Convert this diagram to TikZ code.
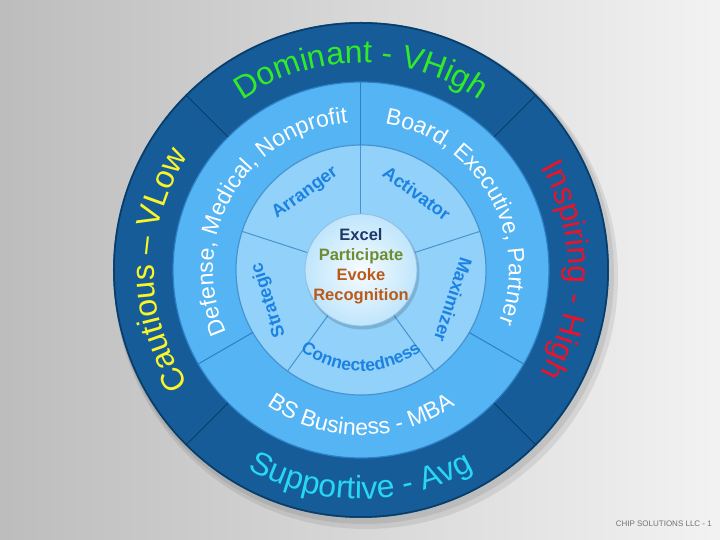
\documentclass[tikz,border=0pt]{standalone}
\usepackage{fontspec}
\setmainfont{Liberation Sans}
\usepackage{tikz}
\usetikzlibrary{shapes,positioning,calc}
\usetikzlibrary{decorations.text}
\definecolor{ringdark}{RGB}{21,92,152}
\definecolor{ringdarkedge}{RGB}{10,60,102}
\definecolor{ringmid}{RGB}{84,180,244}
\definecolor{ringmidedge}{RGB}{45,128,198}
\definecolor{ringinner}{RGB}{145,209,250}
\definecolor{ringinneredge}{RGB}{72,148,208}
\definecolor{hubblue}{RGB}{200,233,252}
\definecolor{labelblue}{RGB}{28,130,226}
\definecolor{dominantgreen}{RGB}{50,235,40}
\definecolor{cautiousyellow}{RGB}{250,245,40}
\definecolor{inspiringred}{RGB}{232,20,45}
\definecolor{supportivecyan}{RGB}{40,215,245}
\definecolor{excelnavy}{RGB}{30,55,105}
\definecolor{participategreen}{RGB}{110,140,50}
\definecolor{evokeorange}{RGB}{185,90,25}
\tikzstyle{arclabel} = [decorate, decoration={text along path, text align=center}]
\tikzstyle{facet} = [font=\bfseries\fontsize{18}{20}\selectfont, text=labelblue, inner sep=0pt]
\tikzstyle{hubtext} = [font=\bfseries\fontsize{16.5}{18}\selectfont, anchor=base, inner sep=0pt]
\tikzstyle{divider} = [line width=1pt]

\begin{document}
\begin{tikzpicture}[x=1pt, y=1pt]
					\useasboundingbox (-361,-270) rectangle (359,270);
					\shade[left color=black!26, right color=black!5] (-361,-270) rectangle (359,270);
					\fill[black, opacity=0.08] (5,-7) circle (252);
					\fill[black, opacity=0.08] (3,-4) circle (250);
					\fill[ringdark] (0,0) circle (248);
					\draw[ringdarkedge, line width=1.5pt] (0,0) circle (247);
					\fill[ringmid] (0,0) circle (188);
					\draw[ringmidedge, line width=1.2pt] (0,0) circle (188);
					\fill[ringinner] (0,0) circle (125);
					\draw[ringinneredge, line width=1.2pt] (0,0) circle (125);
					\draw[divider, ringdarkedge] (45:188) -- (45:248);
					\draw[divider, ringdarkedge] (135:188) -- (135:248);
					\draw[divider, ringdarkedge] (225:188) -- (225:248);
					\draw[divider, ringdarkedge] (315:188) -- (315:248);
					\draw[divider, ringmidedge] (90:125) -- (90:188);
					\draw[divider, ringmidedge] (210:125) -- (210:188);
					\draw[divider, ringmidedge] (330:125) -- (330:188);
					\draw[divider, ringinneredge] (90:56) -- (90:125);
					\draw[divider, ringinneredge] (162:56) -- (162:125);
					\draw[divider, ringinneredge] (234:56) -- (234:125);
					\draw[divider, ringinneredge] (306:56) -- (306:125);
					\draw[divider, ringinneredge] (18:56) -- (18:125);
					\fill[black, opacity=0.15] (1.5,-2.5) circle (57);
					\shade[inner color=white!85!hubblue, outer color=hubblue!85!ringinner] (0,0) circle (56);
					\draw[ringinneredge!60, line width=0.8pt] (0,0) circle (56);
					\path[arclabel, decoration={text={|\fontsize{32}{36}\selectfont|Dominant - VHigh}, text color=dominantgreen}] (152:207) arc[start angle=152, end angle=28, radius=207];
					\path[arclabel, decoration={text={|\fontsize{32}{36}\selectfont|Cautious – VLow}, text color=cautiousyellow}] (242:207) arc[start angle=242, end angle=118, radius=207];
					\path[arclabel, decoration={text={|\fontsize{32}{36}\selectfont|Inspiring - High}, text color=inspiringred}] (62:207) arc[start angle=62, end angle=-62, radius=207];
					\path[arclabel, decoration={text={|\fontsize{32}{36}\selectfont|Supportive - Avg}, text color=supportivecyan}] (208:229) arc[start angle=208, end angle=332, radius=229];
					\path[arclabel, decoration={text={|\fontsize{23}{26}\selectfont|Defense, Medical, Nonprofit}, text color=white}] (217:148) arc[start angle=217, end angle=83, radius=148];
					\path[arclabel, decoration={text={|\fontsize{23}{26}\selectfont|Board, Executive, Partner}, text color=white}] (97:148) arc[start angle=97, end angle=-37, radius=148];
					\path[arclabel, decoration={text={|\fontsize{23}{26}\selectfont|BS Business - MBA}, text color=white}] (200:165) arc[start angle=200, end angle=340, radius=165];
					\node (arranger) at (126:95) [facet, rotate=36] {Arranger};
					\node (activator) at (54:95) [facet, rotate=-36] {Activator};
					\node (maximizer) at (342:97) [facet, rotate=-108] {Maximizer};
					\node (strategic) at (198:97) [facet, rotate=108] {Strategic};
					\path[arclabel, decoration={text={|\bfseries\fontsize{17.5}{19}\selectfont|Connectedness}, text color=labelblue}] (224:101) arc[start angle=224, end angle=316, radius=101];
					\node (excel) at (0,29) [hubtext, text=excelnavy] {Excel};
					\node (participate) at (0,9) [hubtext, text=participategreen] {Participate};
					\node (evoke) at (0,-11) [hubtext, text=evokeorange] {Evoke};
					\node (recognition) at (0,-31) [hubtext, text=evokeorange] {Recognition};
					\node (footer) at (351,-257) [anchor=base east, inner sep=0pt, font=\fontsize{8}{9}\selectfont, text=black!55] {CHIP SOLUTIONS LLC - 1};
				\end{tikzpicture}
\end{document}
